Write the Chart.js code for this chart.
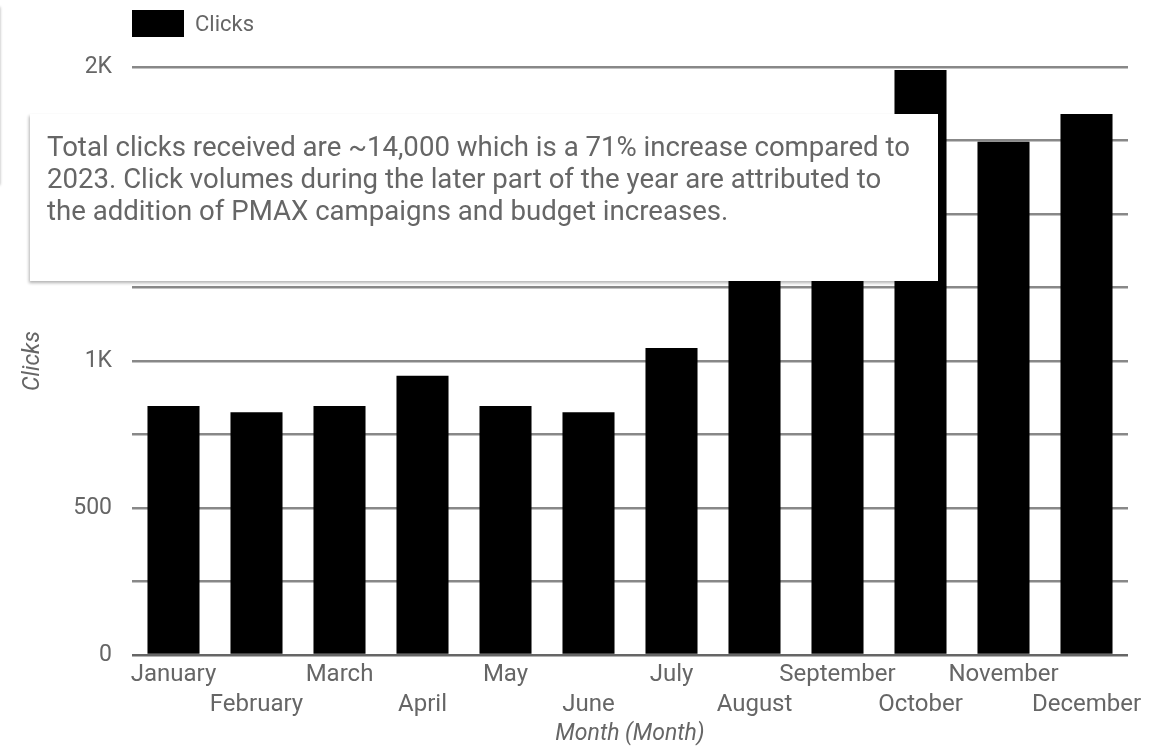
<!DOCTYPE html>
<html>
<head>
<meta charset="utf-8">
<script src="https://cdn.jsdelivr.net/npm/chart.js@4"></script>
<style>
  html, body { margin: 0; padding: 0; background: #fff; }
  body { width: 1160px; height: 748px; position: relative; overflow: hidden; font-family: Roboto, sans-serif; }
  #wrap { position: absolute; left: 0; top: 0; width: 1160px; height: 748px; }
  .legend { position: absolute; left: 132px; top: 10px; display: flex; align-items: center; color: #666; font-size: 22px; }
  .legend .swatch { width: 52px; height: 27px; background: #000; margin-right: 11px; }
  .note {
    position: absolute; left: 30px; top: 114px; width: 908px; height: 167px;
    background: #fff; box-sizing: border-box; padding: 17px 0 0 17px;
    box-shadow: -1px 2px 3px rgba(0,0,0,0.3);
    color: #666; font-size: 27.6px; line-height: 32px; white-space: nowrap;
  }
  .edge { position: absolute; left: -10px; top: 7px; width: 10px; height: 178px; box-shadow: 0 0 3px rgba(0,0,0,0.35); }
</style>
</head>
<body>
<div id="wrap"><canvas id="chart" width="1160" height="748"></canvas></div>
<div class="edge"></div>
<div class="legend"><div class="swatch"></div>Clicks</div>
<div class="note">Total clicks received are ~14,000 which is a 71% increase compared to<br>2023. Click volumes during the later part of the year are attributed to<br>the addition of PMAX campaigns and budget increases.</div>
<script>
// ─── DATA ─────────────────────────────────────────────────────────────────────
const MONTHS = ["January", "February", "March", "April", "May", "June",
                "July", "August", "September", "October", "November", "December"];
const CLICKS = [847, 826, 847, 950, 847, 826, 1044, 1300, 1310, 1990, 1746, 1840];
const Y_MAX = 2000;
const Y_STEP = 250;

// ─── HELPERS ──────────────────────────────────────────────────────────────────
function fmtTick(v) {
  if (v % 500 !== 0) return "";
  return v >= 1000 ? (v / 1000) + "K" : String(v);
}

Chart.defaults.font.family = "Roboto";
Chart.defaults.color = "#666";

// ─── CHART ────────────────────────────────────────────────────────────────────
const ctx = document.getElementById("chart").getContext("2d");
new Chart(ctx, {
  type: "bar",
  data: {
    labels: MONTHS,
    datasets: [{
      label: "Clicks",
      data: CLICKS,
      backgroundColor: "#000",
      borderWidth: 0,
      categoryPercentage: 1,
      barPercentage: 0.627,
    }]
  },
  options: {
    responsive: false,
    animation: false,
    layout: { padding: { top: 67, right: 32, left: 0, bottom: 0 } },
    plugins: { legend: { display: false }, tooltip: { enabled: false } },
    scales: {
      x: {
        grid: { display: false, drawTicks: false },
        border: { display: false },
        ticks: {
          autoSkip: false, maxRotation: 0, minRotation: 0, padding: 5,
          font: { size: 24, lineHeight: 1.25 },
          // odd months drop to a second row
          callback: (v, i) => i % 2 ? ["", MONTHS[i]] : MONTHS[i],
        },
        title: {
          display: true, text: "Month (Month)",
          font: { size: 23, style: "italic", lineHeight: 1.2 },
          padding: { top: 0, bottom: 0 },
        },
        afterFit: s => { s.height = 93; },
      },
      y: {
        min: 0, max: Y_MAX,
        grid: {
          drawTicks: false,
          lineWidth: 2.5,
          color: c => c.tick && c.tick.value === 0 ? "#666" : "#888",
        },
        border: { display: false },
        ticks: { stepSize: Y_STEP, padding: 20, font: { size: 23 }, callback: fmtTick },
        title: {
          display: true, text: "Clicks",
          font: { size: 23, style: "italic", lineHeight: 1.2 },
          padding: { top: 19, bottom: 0 },
        },
        afterFit: s => { s.width = 132; },
      }
    }
  }
});
</script>
</body>
</html>
